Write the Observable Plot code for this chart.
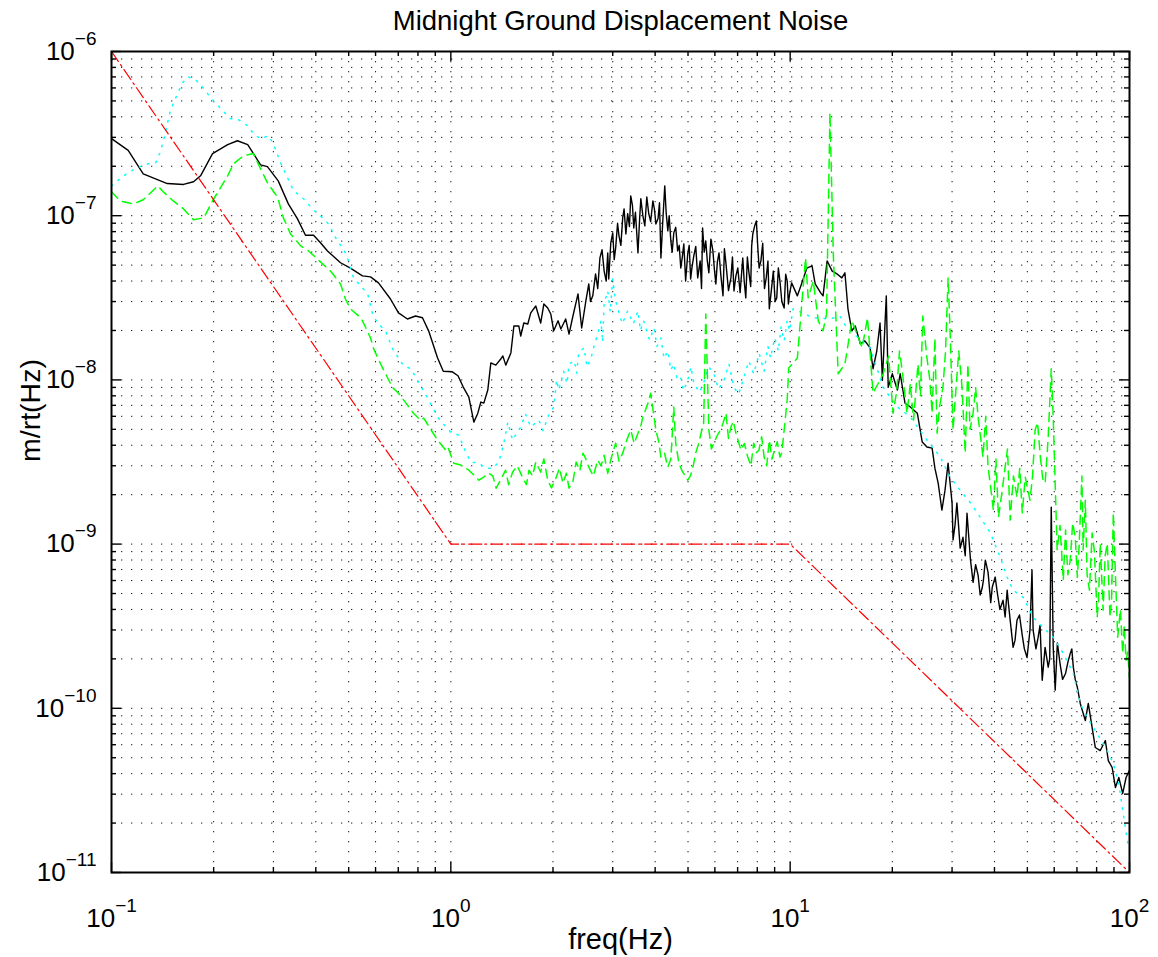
<!DOCTYPE html>
<html>
<head>
<meta charset="utf-8">
<script src="https://cdn.jsdelivr.net/npm/d3@7"></script>
<script src="https://cdn.jsdelivr.net/npm/@observablehq/plot@0.6"></script>
<style>
  html, body { margin: 0; padding: 0; background: #fff; }
  #chart { width: 1158px; height: 957px; }
</style>
</head>
<body>
<div id="chart"></div>
<script>
// ---------- DATA: [frequency (Hz), displacement noise (m/rtHz)] ----------
const blackSeries = [
  [0.1,2.95e-7],[0.112,2.5e-7],[0.124,1.8e-7],[0.146,1.57e-7],[0.163,1.55e-7],[0.1745,1.61e-7],
  [0.183,1.75e-7],[0.1985,2.39e-7],[0.22,2.71e-7],[0.235,2.86e-7],[0.252,2.71e-7],[0.262,2.39e-7],
  [0.275,2.04e-7],[0.288,1.99e-7],[0.31,1.63e-7],[0.332,1.18e-7],[0.353,9.6e-8],[0.373,7.6e-8],
  [0.394,7.6e-8],[0.413,6.84e-8],[0.433,6.1e-8],[0.473,5.17e-8],[0.506,4.8e-8],[0.549,4.3e-8],
  [0.58,4.24e-8],[0.612,3.9e-8],[0.664,3.11e-8],[0.701,2.56e-8],[0.745,2.35e-8],[0.787,2.45e-8],
  [0.825,2.39e-8],[0.86,1.99e-8],[0.914,1.36e-8],[0.95,1.13e-8],[1.01,1.12e-8],[1.05,1.06e-8],
  [1.092,8.9e-9],[1.13,7.86e-9],[1.169,5.53e-9],[1.201,6.27e-9],[1.226,7.33e-9],[1.251,7.22e-9],
  [1.285,8.67e-9],[1.312,1.27e-8],[1.357,1.23e-8],[1.403,1.34e-8],[1.423,1.4e-8],[1.452,1.23e-8],
  [1.503,1.46e-8],[1.534,2.13e-8],[1.586,2.13e-8],[1.607,1.85e-8],[1.641,2.22e-8],[1.686,2.19e-8],
  [1.72,2.56e-8],[1.78,2.82e-8],[1.84,2.22e-8],[1.88,2.9e-8],[1.93,2.74e-8],[1.97,2.52e-8],
  [2.01,1.99e-8],[2.07,2.29e-8],[2.11,2.04e-8],[2.18,2.35e-8],[2.23,1.9e-8],[2.29,2.45e-8],
  [2.37,3.34e-8],[2.43,2.07e-8],[2.5,3.03e-8],[2.55,3.84e-8],[2.58,3.0e-8],[2.62,3.25e-8],
  [2.67,4.42e-8],[2.71,3.6e-8],[2.75,5.53e-8],[2.79,6.2e-8],[2.83,4.6e-8],[2.87,4.0e-8],
  [2.9,5.94e-8],[2.92,4.12e-8],[2.96,6.8e-8],[3.0,7.86e-8],[3.03,5.4e-8],[3.06,6.36e-8],
  [3.1,9.0e-8],[3.13,7.54e-8],[3.17,6.6e-8],[3.21,9.7e-8],[3.24,1.1e-7],[3.28,7.74e-8],
  [3.32,1.03e-7],[3.36,8.6e-8],[3.39,1.32e-7],[3.43,1.15e-7],[3.46,8.42e-8],[3.5,1.05e-7],
  [3.56,5.94e-8],[3.6,9.5e-8],[3.63,1.27e-7],[3.68,1.0e-7],[3.73,8.67e-8],[3.78,1.3e-7],
  [3.83,1.03e-7],[3.88,9.2e-8],[3.94,1.23e-7],[3.98,1.1e-7],[4.02,8.9e-8],[4.08,9.6e-8],
  [4.12,1.2e-7],[4.16,5.53e-8],[4.21,9.0e-8],[4.27,1.52e-7],[4.31,1.05e-7],[4.36,8.08e-8],
  [4.4,1.0e-7],[4.45,7.02e-8],[4.49,6.0e-8],[4.54,7.86e-8],[4.6,8.5e-8],[4.66,6.1e-8],
  [4.71,6.6e-8],[4.76,4.8e-8],[4.81,5.6e-8],[4.86,6.73e-8],[4.92,4.0e-8],[4.99,5.85e-8],
  [5.04,6.6e-8],[5.09,4.12e-8],[5.14,4.9e-8],[5.2,5.69e-8],[5.27,6.5e-8],[5.34,4.18e-8],
  [5.43,5.3e-8],[5.48,3.6e-8],[5.52,8.42e-8],[5.58,6.0e-8],[5.64,7.02e-8],[5.7,5.3e-8],
  [5.76,4.49e-8],[5.84,7.2e-8],[5.92,6.1e-8],[5.98,4.7e-8],[6.04,3.84e-8],[6.1,5.2e-8],
  [6.17,5.94e-8],[6.25,4.3e-8],[6.34,3.25e-8],[6.4,6.3e-8],[6.47,5.09e-8],[6.58,3.5e-8],
  [6.69,4.18e-8],[6.76,5.6e-8],[6.83,3.48e-8],[6.92,4.3e-8],[7.01,4.8e-8],[7.12,3.4e-8],
  [7.25,5.53e-8],[7.32,4.0e-8],[7.4,3.16e-8],[7.48,5.6e-8],[7.55,4.6e-8],[7.65,3.7e-8],
  [7.7,6.5e-8],[7.76,7.74e-8],[7.86,8.67e-8],[7.95,9.3e-8],[8.03,6.36e-8],[8.1,4.8e-8],
  [8.2,5.31e-8],[8.3,6.8e-8],[8.4,3.6e-8],[8.5,4.18e-8],[8.6,5.3e-8],[8.68,2.71e-8],
  [8.8,3.5e-8],[8.92,4.6e-8],[9.03,3.0e-8],[9.13,3.16e-8],[9.23,4.8e-8],[9.33,4.0e-8],
  [9.45,3.0e-8],[9.6,2.74e-8],[9.7,4.4e-8],[9.8,4.0e-8],[9.88,2.9e-8],[9.96,3.34e-8],
  [10.1,3.9e-8],[10.5,3.25e-8],[10.8,3.84e-8],[11.2,4.8e-8],
  [11.6,4.95e-8],[11.85,3.84e-8],[12.3,3.39e-8],[12.5,3.25e-8],[12.85,5.31e-8],[13.3,4.6e-8],
  [13.75,4.42e-8],[14.2,4.18e-8],[14.5,4.49e-8],[14.8,2.71e-8],[15.2,1.99e-8],[15.55,2.13e-8],
  [16.1,1.66e-8],[16.6,1.73e-8],[17.2,1.57e-8],[17.55,1.17e-8],[18.0,1.5e-8],[18.4,2.22e-8],
  [18.7,9.95e-9],[19.2,3.25e-8],[19.45,9.0e-9],[20.0,1.09e-8],[20.7,8.67e-9],[21.1,1.09e-8],
  [21.8,7.22e-9],[22.6,6.84e-9],[23.7,6.27e-9],[24.5,4.18e-9],[25.3,3.9e-9],[26.2,3.84e-9],
  [26.7,2.9e-9],[27.3,2.35e-9],[28.0,1.61e-9],[28.6,2.13e-9],[29.2,3.11e-9],[30.0,1.78e-9],
  [30.2,1.06e-9],[30.6,1.3e-9],[31.0,1.78e-9],[31.7,9.45e-10],[32.3,1.1e-9],[32.8,8.5e-10],
  [33.2,1.54e-9],[34.0,7.98e-10],[34.6,5.85e-10],[35.2,7.5e-10],[35.8,6.45e-10],[36.3,4.9e-10],
  [36.8,5.4e-10],[37.1,6.0e-10],[37.6,7.98e-10],[38.3,6.73e-10],[39.0,4.4e-10],[39.4,5.46e-10],
  [40.2,6.3e-10],[40.8,5.02e-10],[41.5,4.0e-10],[42.4,4.55e-10],[43.0,3.6e-10],[43.6,5.24e-10],
  [44.0,4.3e-10],[44.5,3.44e-10],[45.4,2.35e-10],[46.0,2.6e-10],[46.6,3.44e-10],[47.4,3.7e-10],
  [48.3,2.78e-10],[49.0,2.3e-10],[49.9,2.04e-10],[50.9,2.99e-10],[51.6,6.93e-10],[52.0,2.99e-10],
  [53.0,2.3e-10],[53.8,2.71e-10],[54.5,3.2e-10],[55.3,1.48e-10],[56.4,2.35e-10],[57.6,1.78e-10],
  [58.2,2.0e-10],[58.8,1.68e-9],[59.6,2.35e-10],[60.4,1.29e-10],[61.3,2.5e-10],[62.4,1.88e-10],
  [63.5,1.5e-10],[64.8,1.63e-10],[65.8,1.9e-10],[66.9,2.16e-10],[67.6,2.3e-10],[68.3,1.78e-10],
  [69.2,1.5e-10],[70.2,1.34e-10],[71.6,1.07e-10],
  [74.1,8.42e-11],[75.6,1.07e-10],[77.6,7.63e-11],[79.3,5.77e-11],[82.0,5.53e-11],[84.9,6.36e-11],
  [86.6,4.8e-11],[88.9,4.36e-11],[90.9,3.29e-11],[93.0,3.79e-11],[95.5,3.03e-11],[97.7,3.79e-11],
  [99.9,4.18e-11]
];

const greenSeries = [
  [0.1,1.4e-7],[0.106,1.23e-7],[0.116,1.18e-7],[0.124,1.25e-7],[0.137,1.52e-7],[0.142,1.4e-7],
  [0.152,1.23e-7],[0.163,1.1e-7],[0.1745,9.45e-8],[0.187,9.7e-8],[0.1985,1.23e-7],[0.207,1.42e-7],
  [0.22,1.75e-7],[0.229,2.07e-7],[0.245,2.32e-7],[0.262,2.39e-7],[0.275,1.93e-7],[0.288,1.59e-7],
  [0.309,1.29e-7],[0.321,9.7e-8],[0.337,7.74e-8],[0.361,6.55e-8],[0.381,6.1e-8],[0.442,4.6e-8],
  [0.473,3.84e-8],[0.489,3.11e-8],[0.506,2.71e-8],[0.542,2.39e-8],[0.549,2.29e-8],[0.58,1.8e-8],
  [0.592,1.55e-8],[0.621,1.25e-8],[0.642,1.09e-8],[0.673,9.0e-9],[0.701,8.3e-9],[0.745,7.02e-9],
  [0.776,6.27e-9],[0.814,5.69e-9],[0.832,5.85e-9],[0.883,4.8e-9],[0.914,4.3e-9],[0.965,3.74e-9],
  [0.98,3.9e-9],[1.02,3.11e-9],[1.07,3.03e-9],[1.13,2.82e-9],[1.21,2.45e-9],[1.25,2.56e-9],
  [1.29,2.71e-9],[1.33,2.6e-9],[1.36,2.19e-9],[1.40,2.45e-9],[1.45,2.82e-9],[1.48,2.3e-9],
  [1.52,2.74e-9],[1.57,3.0e-9],[1.63,2.52e-9],[1.67,2.3e-9],[1.70,2.82e-9],[1.74,2.6e-9],
  [1.78,3.16e-9],[1.84,2.74e-9],[1.88,3.3e-9],[1.93,2.45e-9],[1.98,2.2e-9],[2.04,2.52e-9],
  [2.09,2.9e-9],[2.14,2.35e-9],[2.19,2.7e-9],[2.23,2.19e-9],[2.29,2.4e-9],[2.34,3.16e-9],
  [2.4,2.8e-9],[2.45,3.58e-9],[2.5,3.3e-9],[2.55,2.94e-9],[2.63,2.6e-9],[2.71,3.25e-9],
  [2.77,3.0e-9],[2.83,3.48e-9],[2.9,2.7e-9],[2.96,3.25e-9],[3.0,3.6e-9],[3.06,4.12e-9],
  [3.13,3.2e-9],[3.21,3.58e-9],[3.3,4.3e-9],[3.39,4.95e-9],[3.47,4.1e-9],[3.56,4.74e-9],
  [3.62,5.1e-9],[3.68,5.94e-9],[3.81,7.22e-9],[3.88,8.3e-9],[4.02,4.95e-9],[4.1,4.2e-9],
  [4.16,3.39e-9],[4.26,3.6e-9],[4.36,2.94e-9],[4.45,3.3e-9],[4.54,6.84e-9],[4.60,4.12e-9],
  [4.70,3.11e-9],[4.8,2.8e-9],[4.99,2.45e-9],[5.08,2.6e-9],[5.17,2.94e-9],[5.27,3.6e-9],
  [5.38,4.12e-9],[5.47,4.8e-9],[5.56,5.46e-9],[5.64,2.52e-8],[5.76,4.95e-9],[5.86,3.8e-9],
  [5.96,4.12e-9],[6.1,4.6e-9],[6.23,4.95e-9],[6.35,5.5e-9],[6.47,6.27e-9],[6.58,4.4e-9],
  [6.69,5.17e-9],[6.8,5.6e-9],[6.92,4.74e-9],[7.04,4.2e-9],[7.16,3.74e-9],[7.33,4.1e-9],
  [7.50,3.39e-9],[7.66,3.0e-9],[7.81,4.12e-9],[7.95,3.6e-9],[8.09,3.74e-9],[8.24,4.5e-9],
  [8.38,3.39e-9],[8.53,3.0e-9],[8.68,4.3e-9],[8.84,3.3e-9],[8.99,3.74e-9],[9.16,4.2e-9],
  [9.33,3.39e-9],[9.45,3.6e-9],[9.6,4.95e-9],[9.8,7.54e-9],[9.9,1.18e-8],
  [10.5,1.36e-8],[11.1,5.53e-8],[11.3,3.16e-8],[11.7,4.0e-8],[12.1,2.29e-8],[12.5,1.99e-8],
  [12.8,2.52e-8],[13.1,4.24e-7],[13.4,5.85e-8],[13.85,1.09e-8],[14.5,1.25e-8],[15.2,2.29e-8],
  [16.3,1.57e-8],[16.9,2.39e-8],[17.55,8.3e-9],[18.8,1.09e-8],[19.5,1.4e-8],[20.1,6.27e-9],
  [20.6,8.5e-9],[21.0,1.5e-8],[21.4,1.13e-8],[22.1,6.27e-9],[22.6,9.5e-9],[23.1,5.69e-9],
  [23.8,1.25e-8],[24.2,8.0e-9],[24.6,2.45e-8],[25.3,1.36e-8],[25.8,1.0e-8],[26.2,6.27e-9],
  [26.7,1.8e-8],[27.1,4.74e-9],[27.6,7.0e-9],[28.2,9.0e-9],[28.7,1.5e-8],[29.2,4.18e-8],
  [29.6,1.99e-8],[30.2,4.95e-9],[30.7,8.0e-9],[31.4,1.5e-8],[32.1,9.0e-9],[32.8,3.58e-9],
  [33.4,1.25e-8],[33.9,5.0e-9],[34.6,6.27e-9],[35.2,9.0e-9],[35.8,5.94e-9],[36.4,4.5e-9],
  [37.0,3.39e-9],[37.7,6.0e-9],[38.3,2.94e-9],[39.0,2.2e-9],[39.7,1.61e-9],[40.4,3.3e-9],
  [41.1,1.46e-9],[42.0,2.0e-9],[43.0,2.94e-9],[43.7,3.8e-9],[44.5,1.4e-9],[45.5,2.6e-9],
  [46.6,1.93e-9],[47.5,2.9e-9],[48.3,1.55e-9],[49.3,2.56e-9],[50.9,1.85e-9],[51.8,2.6e-9],
  [52.7,4.95e-9],[53.6,5.5e-9],[54.6,3.39e-9],[55.5,2.5e-9],[56.4,2.35e-9],[57.0,3.2e-9],
  [57.6,4.49e-9],[58.8,1.17e-8],[59.6,5.94e-9],[61.2,9.2e-10],[62.4,1.3e-9],[63.8,6.03e-10],
  [64.8,1.22e-9],[65.8,6.5e-10],[66.9,7.98e-10],[68.0,1.35e-9],[69.2,1.1e-9],[70.2,6.27e-10],
  [71.0,9.5e-10],[72.4,2.6e-9],[73.0,9.2e-10],[74.1,1.85e-9],[75.0,6.5e-10],[76.2,5.24e-10],
  [77.6,1.17e-9],[78.8,9.0e-10],[80.3,3.58e-10],[81.0,4.5e-10],[82.0,1.01e-9],[83.6,3.95e-10],
  [84.8,8.5e-10],[86.0,1.01e-9],[87.6,3.58e-10],[88.5,4.5e-10],[89.6,1.55e-9],[90.9,6.5e-10],
  [92.3,2.71e-10],[94.0,4.0e-10],[95.5,2.16e-10],[96.5,3.2e-10],[97.7,1.96e-10],[98.8,2.2e-10],
  [99.9,1.55e-10]
];

const cyanSeries = [
  [0.1,1.52e-7],[0.106,1.68e-7],[0.112,1.83e-7],[0.119,1.96e-7],[0.128,2.07e-7],[0.135,2.1e-7],
  [0.139,2.42e-7],[0.144,3.16e-7],[0.149,4.36e-7],[0.157,5.62e-7],[0.162,6.45e-7],[0.168,7.02e-7],
  [0.177,6.73e-7],[0.186,6.03e-7],[0.193,5.46e-7],[0.202,4.88e-7],[0.224,3.9e-7],[0.237,3.84e-7],
  [0.252,3.53e-7],[0.262,3.16e-7],[0.275,2.94e-7],[0.29,3.07e-7],[0.30,2.74e-7],[0.315,2.1e-7],
  [0.344,1.42e-7],[0.368,1.27e-7],[0.391,1.1e-7],[0.419,9.7e-8],[0.436,8.9e-8],[0.463,7.02e-8],
  [0.483,6.27e-8],[0.496,5.53e-8],[0.517,4.18e-8],[0.542,3.74e-8],[0.569,3.34e-8],[0.588,2.52e-8],
  [0.608,2.22e-8],[0.642,1.99e-8],[0.673,1.55e-8],[0.701,1.36e-8],[0.725,1.22e-8],[0.762,1.17e-8],
  [0.803,9.7e-9],[0.854,7.74e-9],[0.883,6.84e-9],[0.914,5.94e-9],[0.945,5.46e-9],[1.0,4.8e-9],
  [1.056,4.6e-9],[1.107,3.63e-9],[1.145,3.16e-9],[1.21,3.11e-9],[1.268,2.9e-9],[1.33,2.9e-9],
  [1.385,3.16e-9],[1.433,4.12e-9],[1.472,5.53e-9],[1.52,4.3e-9],[1.607,5.17e-9],[1.66,6.2e-9],
  [1.72,5.17e-9],[1.817,5.69e-9],[1.87,4.9e-9],[1.93,5.94e-9],[2.01,6.84e-9],[2.05,1.0e-8],
  [2.08,8.67e-9],[2.15,1.13e-8],[2.2,9.5e-9],[2.23,1.25e-8],[2.31,1.31e-8],[2.35,1.1e-8],
  [2.38,1.46e-8],[2.47,1.57e-8],[2.52,1.2e-8],[2.59,1.36e-8],[2.65,1.65e-8],[2.71,1.9e-8],
  [2.77,2.29e-8],[2.8,1.7e-8],[2.83,2.9e-8],[2.9,3.48e-8],[2.95,2.6e-8],[3.0,4.12e-8],
  [3.05,3.1e-8],[3.10,2.74e-8],[3.2,2.2e-8],[3.32,2.63e-8],[3.45,2.2e-8],[3.56,2.63e-8],
  [3.62,2.0e-8],[3.70,2.29e-8],[3.85,1.75e-8],[3.97,2.07e-8],[4.05,1.6e-8],[4.16,1.8e-8],
  [4.25,1.35e-8],[4.36,1.5e-8],[4.45,1.15e-8],[4.54,1.25e-8],[4.65,1.0e-8],[4.76,1.03e-8],
  [4.85,8.6e-9],[4.99,9.95e-9],[5.1,1.2e-8],[5.2,9.6e-9],[5.4,8.4e-9],[5.56,9.6e-9],
  [5.75,1.2e-8],[5.96,1.09e-8],[6.15,8.8e-9],[6.38,9.95e-9],[6.6,1.25e-8],[6.83,9.0e-9],
  [7.05,8.2e-9],[7.3,1.03e-8],[7.55,1.3e-8],[7.81,1.09e-8],[8.1,1.45e-8],[8.38,1.13e-8],
  [8.6,1.6e-8],[8.76,1.36e-8],[9.0,1.8e-8],[9.23,1.5e-8],[9.4,2.1e-8],[9.6,1.73e-8],
  [9.8,2.3e-8],[9.96,1.99e-8],[10.2,2.71e-8],[11.7,2.39e-8],[13.1,2.35e-8],[14.0,2.45e-8],
  [14.7,2.07e-8],[17.2,1.57e-8],[18.8,9.0e-9],[20.7,6.84e-9],[22.6,5.94e-9],[25.3,4.3e-9],
  [27.7,3.39e-9],[29.6,2.56e-9],[31.7,2.13e-9],[34.0,1.78e-9],[36.3,1.46e-9],[38.9,1.17e-9],
  [41.6,8.3e-10],[43.6,6.27e-10],[45.4,5.24e-10],[48.6,4.74e-10],[52.0,3.58e-10],[55.6,3.11e-10],
  [59.6,2.71e-10],[63.8,2.16e-10],[68.3,1.63e-10],[71.6,1.07e-10],[75.0,8.8e-11],[80.3,7.02e-11],
  [86.0,5.53e-11],[89.6,4.6e-11],[93.0,3.48e-11],[95.5,2.39e-11],[98.9,1.5e-11]
];

const redSeries = [[0.1,1e-6],[1,1e-9],[10,1e-9],[100,1e-11]];

// ---------- ticks and texts ----------
const xMajor = [0.1, 1, 10, 100];
const yMajor = [1e-11, 1e-10, 1e-9, 1e-8, 1e-7, 1e-6];
const minorSteps = [2, 3, 4, 5, 6, 7, 8, 9];
const titleText = "Midnight Ground Displacement Noise";
const xLabelText = "freq(Hz)";
const yLabelText = "m/rt(Hz)";

// ---------- build ----------
const rows = s => d3.sort(s.map(([f, v]) => ({f, v})), d => d.f);
const black = rows(blackSeries), green = rows(greenSeries), cyan = rows(cyanSeries), red = rows(redSeries);
const xMinor = xMajor.slice(0, -1).flatMap(d => minorSteps.map(m => d * m));
const yMinor = yMajor.slice(0, -1).flatMap(d => minorSteps.map(m => d * m));

const W = 1158, H = 957, mL = 111, mR = 29, mT = 51, mB = 85;
const innerW = W - mL - mR, innerH = H - mT - mB;
const fmt = d => "10^" + Math.round(Math.log10(d));
const gridStyle = {stroke: "#000", strokeWidth: 1, strokeDasharray: "1.3,8.7", strokeOpacity: 0.9};
const tk = {stroke: "#000", strokeWidth: 1.4};

const chart = Plot.plot({
  width: W, height: H,
  marginLeft: mL, marginRight: mR, marginTop: mT, marginBottom: mB,
  style: {fontFamily: "'Liberation Sans', Arial, Helvetica, sans-serif", fontSize: "26px", background: "#fff", color: "#000"},
  x: {type: "log", domain: [0.1, 100], ticks: xMajor, tickFormat: fmt, tickSize: 0, tickPadding: 36, label: null},
  y: {type: "log", domain: [1e-11, 1e-6], ticks: yMajor, tickFormat: fmt, tickSize: 0, tickPadding: 15, label: null},
  marks: [
    Plot.ruleX(xMajor.concat(xMinor), gridStyle),
    Plot.ruleY(yMajor.concat(yMinor), gridStyle),
    Plot.line(black, {x: "f", y: "v", stroke: "#000", strokeWidth: 1.4, clip: true}),
    Plot.line(cyan, {x: "f", y: "v", stroke: "#00ffff", strokeWidth: 1.5, strokeDasharray: "1.5,7", clip: true}),
    Plot.line(green, {x: "f", y: "v", stroke: "#00ff00", strokeWidth: 1.5, strokeDasharray: "9,6", clip: true}),
    Plot.line(red, {x: "f", y: "v", stroke: "#ff0000", strokeWidth: 1.2, strokeDasharray: "12,4,2,4", clip: true}),
    // inward tick marks on all four sides
    Plot.ruleX(xMajor, {...tk, insetTop: innerH - 10}),
    Plot.ruleX(xMajor, {...tk, insetBottom: innerH - 10}),
    Plot.ruleX(xMinor, {...tk, insetTop: innerH - 5}),
    Plot.ruleX(xMinor, {...tk, insetBottom: innerH - 5}),
    Plot.ruleY(yMajor, {...tk, insetRight: innerW - 10}),
    Plot.ruleY(yMajor, {...tk, insetLeft: innerW - 10}),
    Plot.ruleY(yMinor, {...tk, insetRight: innerW - 5}),
    Plot.ruleY(yMinor, {...tk, insetLeft: innerW - 5}),
    Plot.frame({stroke: "#000", strokeWidth: 2}),
    Plot.text([titleText], {text: d => d, frameAnchor: "top", lineAnchor: "bottom", dy: -22, fontSize: 27.5, fill: "#000"}),
    Plot.text([xLabelText], {text: d => d, frameAnchor: "bottom", lineAnchor: "bottom", dy: 76, fontSize: 29, fill: "#000"}),
    Plot.text([yLabelText], {text: d => d, frameAnchor: "left", lineAnchor: "middle", rotate: -90, dx: -81, fontSize: 28.5, fill: "#000"})
  ]
});

// superscript exponents in the tick labels
chart.querySelectorAll("text").forEach(t => {
  const s = t.textContent;
  if (/^10\^-?\d+$/.test(s)) {
    const exp = s.split("^")[1].replace("-", "\u2212");
    t.textContent = "";
    const ns = "http://www.w3.org/2000/svg";
    const a = document.createElementNS(ns, "tspan"); a.textContent = "10";
    const b = document.createElementNS(ns, "tspan"); b.textContent = exp;
    b.setAttribute("font-size", "19px"); b.setAttribute("dy", "-15");
    t.appendChild(a); t.appendChild(b);
  }
});

document.getElementById("chart").appendChild(chart);
</script>
</body>
</html>
